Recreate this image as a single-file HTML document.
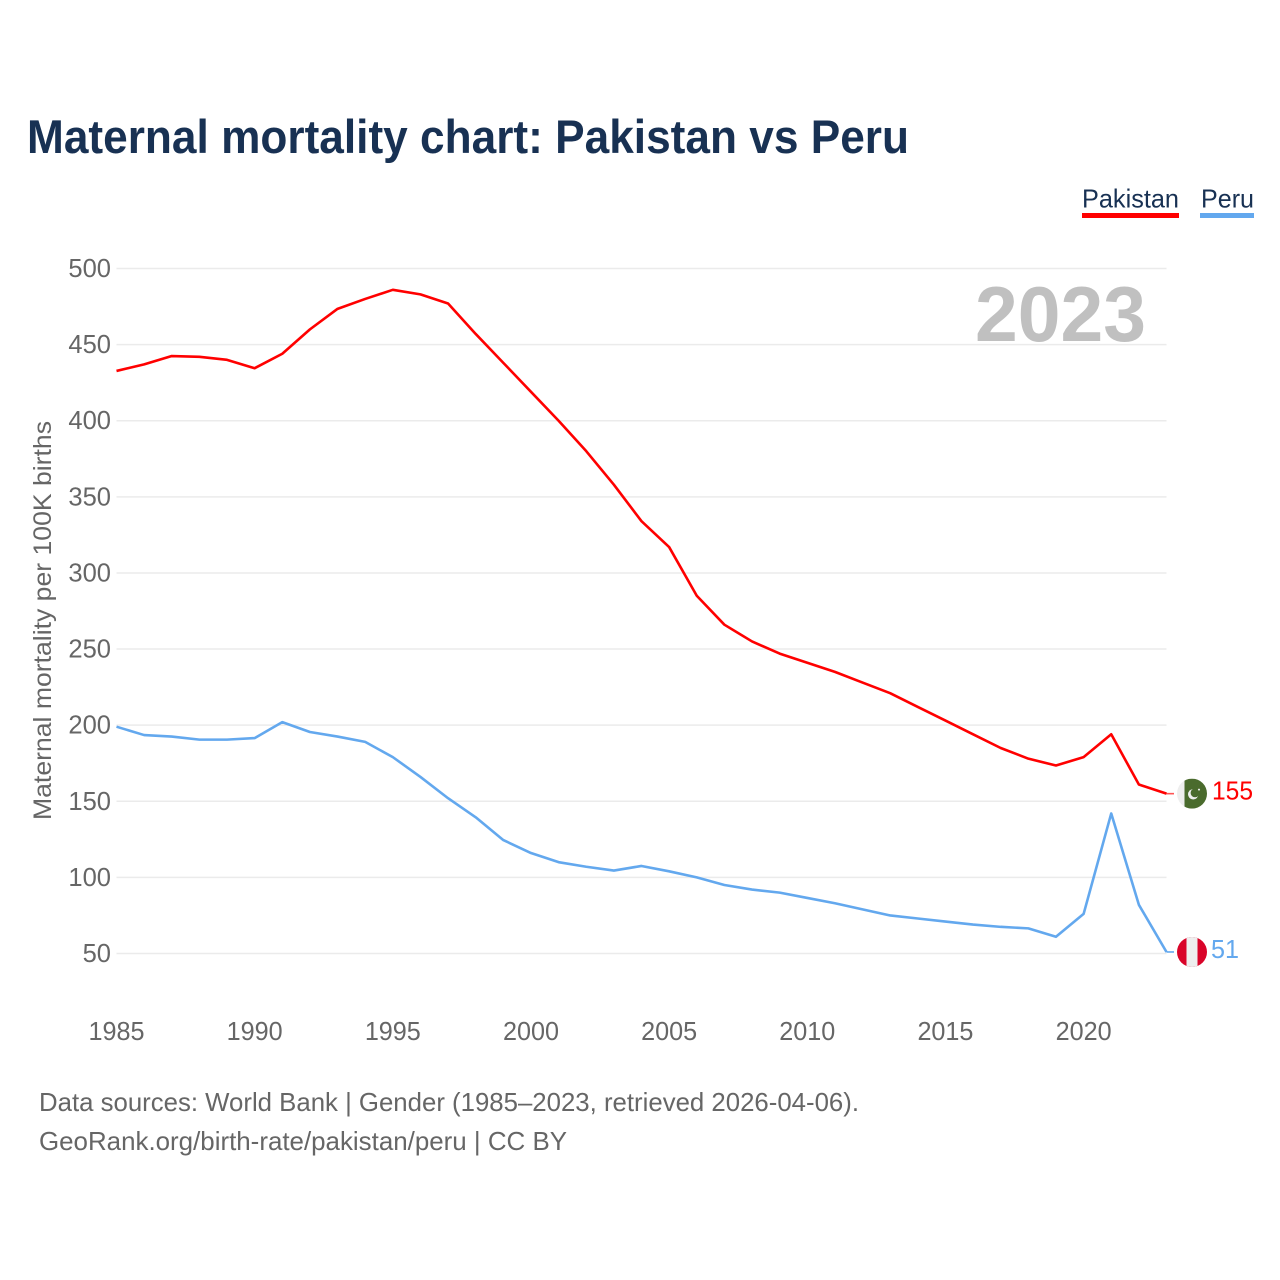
<!DOCTYPE html>
<html lang="en">
<head>
<meta charset="utf-8">
<title>Maternal mortality chart: Pakistan vs Peru</title>
<style>
html,body{margin:0;padding:0;background:#fff;width:1280px;height:1280px;overflow:hidden}
svg{display:block}
text{font-family:"Liberation Sans",sans-serif}
</style>
</head>
<body>
<svg id="chart" width="1280" height="1280" viewBox="0 0 1280 1280" xmlns="http://www.w3.org/2000/svg">
  <defs>
    <clipPath id="flag-clip-pk"><circle id="clip-pk" cx="1192" cy="793" r="15"/></clipPath>
    <clipPath id="flag-clip-pe"><circle id="clip-pe" cx="1192" cy="951" r="15"/></clipPath>
  </defs>
  <text x="27" y="153" font-size="47" font-weight="700" fill="#183153" textLength="882" lengthAdjust="spacingAndGlyphs">Maternal mortality chart: Pakistan vs Peru</text>
  <g>
    <text x="1082" y="207.5" font-size="26" fill="#183153" textLength="97" lengthAdjust="spacingAndGlyphs">Pakistan</text>
    <rect x="1082" y="213" width="97" height="5" fill="#ff0000"/>
  </g>
  <g>
    <text x="1201" y="207.5" font-size="26" fill="#183153" textLength="53" lengthAdjust="spacingAndGlyphs">Peru</text>
    <rect x="1200" y="213" width="54" height="5" fill="#63a8ee"/>
  </g>
  <g id="grid"></g>
  <text x="975" y="341" font-size="78" font-weight="700" fill="#c0c0c0" textLength="171" lengthAdjust="spacingAndGlyphs">2023</text>
  <g id="yticks"></g>
  <g id="xticks"></g>
  <text transform="translate(51,820) rotate(-90)" font-size="25" fill="#666666" textLength="399" lengthAdjust="spacingAndGlyphs">Maternal mortality per 100K births</text>
  <g id="series"></g>
  <g id="flag-pk" clip-path="url(#flag-clip-pk)"></g>
  <g id="flag-pe" clip-path="url(#flag-clip-pe)"></g>
  <text x="39" y="1111" font-size="26" fill="#666666" textLength="820" lengthAdjust="spacingAndGlyphs">Data sources: World Bank | Gender (1985–2023, retrieved 2026-04-06).</text>
  <text x="39" y="1150" font-size="26" fill="#666666" textLength="528" lengthAdjust="spacingAndGlyphs">GeoRank.org/birth-rate/pakistan/peru | CC BY</text>
</svg>
<script>
const years = [1985,1986,1987,1988,1989,1990,1991,1992,1993,1994,1995,1996,1997,1998,1999,2000,2001,2002,2003,2004,2005,2006,2007,2008,2009,2010,2011,2012,2013,2014,2015,2016,2017,2018,2019,2020,2021,2022,2023];
const pakistan = [432.7,437,442.5,442,440,434.5,444,460,473.5,480,486,483,477,457,438,419,400,380,358,334,317,285,266,255,247,241,235,228,221,212,203,194,185,178,173.5,179,194,161,155];
const peru = [199,193.5,192.5,190.5,190.5,191.5,202,195.5,192.5,189,179,166,152,139.5,124.5,116,110,107,104.5,107.5,104,100,95,92,90,86.5,83,79,75,73,71,69,67.5,66.5,61,76,142,82,51];
const yTickLabels = [500,450,400,350,300,250,200,150,100,50];
const xTickLabels = [1985,1990,1995,2000,2005,2010,2015,2020];

const NS = 'http://www.w3.org/2000/svg';
const xScale = function (year) { return 116.5 + (year - 1985) * (1050 / 38); };
const yScale = function (value) { return 953.5 - (value - 50) * (685 / 450); };

function make(tag, parent, attrs, text) {
  const el = document.createElementNS(NS, tag);
  for (const k in attrs) el.setAttribute(k, attrs[k]);
  if (text !== undefined) el.textContent = text;
  parent.appendChild(el);
  return el;
}

const grid = document.getElementById('grid');
const yticks = document.getElementById('yticks');
yTickLabels.forEach(function (v) {
  const line = make('line', grid, {x1: xScale(1985), x2: xScale(2023), y1: yScale(v), y2: yScale(v), stroke: '#ebebeb', 'stroke-width': 1.5});
  
  
  const label = make('text', yticks, {x: 111, y: yScale(v) + 8.5, 'font-size': 26, fill: '#666666', 'text-anchor': 'end', textLength: String(v).length * 14.2, lengthAdjust: 'spacingAndGlyphs'}, v);
  
  
});

const xticks = document.getElementById('xticks');
xTickLabels.forEach(function (y) {
  const label = make('text', xticks, {x: xScale(y), y: 1040, 'font-size': 26, fill: '#666666', 'text-anchor': 'middle', textLength: 56, lengthAdjust: 'spacingAndGlyphs'}, y);
  
  
});

const seriesGroup = document.getElementById('series');
function drawSeries(values, color) {
  const pts = values.map(function (v, i) { return xScale(years[i]).toFixed(2) + ',' + yScale(v).toFixed(2); }).join(' ');
  return make('polyline', seriesGroup, {points: pts, fill: 'none', stroke: color, 'stroke-width': 2.6, 'stroke-linejoin': 'round'});
}
const pkLine = drawSeries(pakistan, '#ff0000');


const peLine = drawSeries(peru, '#63a8ee');



const pkLast = pakistan[pakistan.length - 1];
const peLast = peru[peru.length - 1];
const pkY = yScale(pkLast);
const peY = yScale(peLast);

const pkConn = make('line', seriesGroup, {x1: xScale(2023), x2: 1174, y1: pkY, y2: pkY, stroke: '#ff5555', 'stroke-width': 1.6});


const peConn = make('line', seriesGroup, {x1: xScale(2023), x2: 1174, y1: peY, y2: peY, stroke: '#63a8ee', 'stroke-width': 1.6});



document.getElementById('clip-pk').setAttribute('cy', pkY);
document.getElementById('clip-pe').setAttribute('cy', peY);

const fpk = document.getElementById('flag-pk');
make('rect', fpk, {x: 1177, y: pkY - 15, width: 8, height: 30, fill: '#eeeeee'});
make('rect', fpk, {x: 1184.5, y: pkY - 15, width: 23, height: 30, fill: '#4a6b2d'});
make('circle', fpk, {cx: 1193.2, cy: pkY + 0.6, r: 5.2, fill: '#eeeeee'});
make('circle', fpk, {cx: 1195, cy: pkY - 0.8, r: 4.4, fill: '#4a6b2d'});
make('circle', fpk, {cx: 1199, cy: pkY - 4, r: 1, fill: '#eeeeee'});

const fpe = document.getElementById('flag-pe');
make('rect', fpe, {x: 1177, y: peY - 15, width: 30, height: 30, fill: '#d90429'});
make('rect', fpe, {x: 1186.5, y: peY - 15, width: 11, height: 30, fill: '#eeeeee'});

const pkVal = make('text', document.getElementById('chart'), {x: 1212, y: pkY + 6, 'font-size': 26, fill: '#ff0000', textLength: 41, lengthAdjust: 'spacingAndGlyphs'}, pkLast);


const peVal = make('text', document.getElementById('chart'), {x: 1211, y: peY + 6, 'font-size': 26, fill: '#63a8ee', textLength: 28, lengthAdjust: 'spacingAndGlyphs'}, peLast);


</script>
</body>
</html>
